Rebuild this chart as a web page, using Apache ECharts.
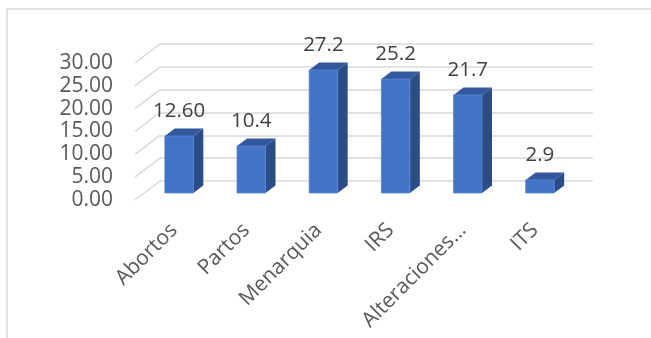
<!DOCTYPE html>
<html>
<head>
<meta charset="utf-8">
<script src="https://cdn.jsdelivr.net/npm/echarts@6/dist/echarts.min.js"></script>
<style>html,body{margin:0;padding:0;background:#fff;}#c{width:651px;height:338px;}</style>
</head>
<body>
<div id="c"></div>
<script>
const categories = ["Abortos", "Partos", "Menarquia", "IRS", "Alteraciones…", "ITS"];
const values = [12.6, 10.4, 27.2, 25.2, 21.7, 2.9];
const valueLabels = ["12.60", "10.4", "27.2", "25.2", "21.7", "2.9"];
const yTicks = [0, 5, 10, 15, 20, 25, 30];

const FONT = '"Open Sans", sans-serif';
const FS = 20.5;
const AFS = 21;
const chart = echarts.init(document.getElementById('c'), null, {renderer: 'canvas'});

const option = {
  animation: false,
  backgroundColor: '#fff',
  graphic: [{
    type: 'polyline',
    shape: {points: [[7, 338], [7, 9], [651, 9]]},
    style: {stroke: '#D9D9D9', lineWidth: 1.5, fill: null}
  }],
  grid: [
    {left: 160, right: 58, top: 44, bottom: 157},   // back wall
    {left: 135, right: 58, top: 63, bottom: 138},   // side wall front edge (labels)
    {left: 143, right: 75, top: 57.4, bottom: 145}, // bars
    {left: 138, right: 80, top: 57.4, bottom: 145}  // category labels
  ],
  xAxis: [
    {gridIndex: 0, type: 'category', data: categories, show: false},
    {gridIndex: 1, type: 'category', data: categories, show: false},
    {gridIndex: 2, type: 'category', data: categories, show: false},
    {gridIndex: 3, type: 'category', data: categories,
      axisLine: {show: false}, axisTick: {show: false},
      axisLabel: {rotate: 45, margin: 34, interval: 0, fontFamily: FONT, fontSize: AFS, color: '#595959'}}
  ],
  yAxis: [
    {gridIndex: 0, type: 'value', min: 0, max: 30, interval: 5,
      axisLine: {show: false}, axisTick: {show: false}, axisLabel: {show: false},
      splitLine: {lineStyle: {color: '#D9D9D9', width: 1.5}}},
    {gridIndex: 1, type: 'value', min: 0, max: 30, interval: 5,
      axisLine: {show: false}, axisTick: {show: false}, splitLine: {show: false},
      axisLabel: {margin: 22, fontFamily: FONT, fontSize: AFS, color: '#595959',
        formatter: v => v.toFixed(2)}},
    {gridIndex: 2, type: 'value', min: 0, max: 30, show: false},
    {gridIndex: 3, type: 'value', min: 0, max: 30, show: false}
  ],
  series: [
    {
      type: 'custom', xAxisIndex: 0, yAxisIndex: 0, silent: true,
      data: yTicks.map(v => [0, v]),
      renderItem(params, api) {
        const p = api.coord([0, api.value(1)]);
        const x = params.coordSys.x;
        return {type: 'line', shape: {x1: x, y1: p[1], x2: x - 25, y2: p[1] + 19},
          style: {stroke: '#D9D9D9', lineWidth: 1.5}};
      }
    },
    {
      type: 'custom', xAxisIndex: 2, yAxisIndex: 2,
      data: values.map((v, i) => [i, v]),
      renderItem(params, api) {
        const idx = params.dataIndex;
        const base = api.coord([api.value(0), 0]);
        const top = api.coord([api.value(0), api.value(1)]);
        const bw = api.size([1, 0])[0] * 0.395;
        const x0 = base[0] - bw / 2, x1 = base[0] + bw / 2;
        const yb = base[1], yt = top[1];
        const dx = 10, dy = -7.5;
        return {type: 'group', children: [
          {type: 'polygon', shape: {points: [[x1, yb], [x1 + dx, yb + dy], [x1 + dx, yt + dy], [x1, yt]]},
            style: {fill: '#2C4C88'}},
          {type: 'polygon', shape: {points: [[x0, yt], [x1, yt], [x1 + dx, yt + dy], [x0 + dx, yt + dy]]},
            style: {fill: '#33589E'}},
          {type: 'rect', shape: {x: x0, y: yt, width: bw, height: yb - yt},
            style: {fill: '#4472C4', stroke: '#5B88D4', lineWidth: 0.8}},
          {type: 'text', style: {text: valueLabels[idx], x: base[0], y: yt + dy - 17,
            align: 'center', verticalAlign: 'middle', fontFamily: FONT, fontSize: FS, fill: '#404040'}}
        ]};
      }
    }
  ]
};
chart.setOption(option);
</script>
</body>
</html>
